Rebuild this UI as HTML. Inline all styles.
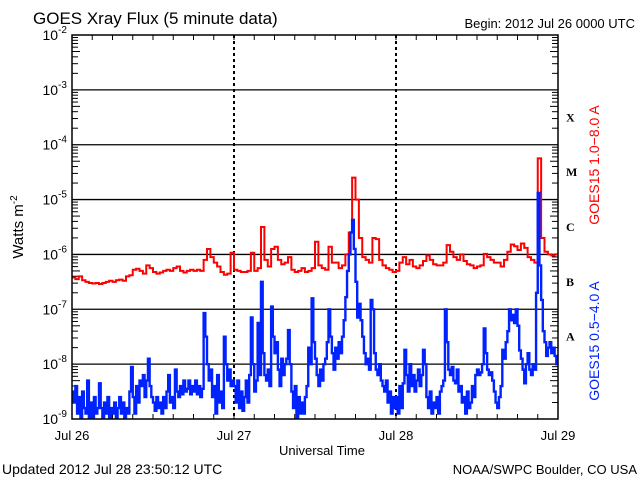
<!DOCTYPE html>
<html><head><meta charset="utf-8"><style>
html,body{margin:0;padding:0;background:#fff;}
svg{display:block;font-family:"Liberation Sans",sans-serif;}
</style></head><body>
<svg id="chart" width="640" height="480" viewBox="0 0 640 480">
<text x="33" y="24" font-size="17">GOES Xray Flux (5 minute data)</text>
<text x="635" y="28" font-size="13" text-anchor="end">Begin:  2012 Jul 26 0000 UTC</text>
<g id="grid"></g>
<g id="series"></g>
<rect x="72" y="35" width="486" height="384" fill="none" stroke="#000" stroke-width="1.5"/>
<g id="ylabels"></g>
<g id="xlabels"></g>
<text transform="translate(23,227) rotate(-90)" font-size="15" text-anchor="middle">Watts m<tspan font-size="10" dy="-6">-2</tspan></text>
<text x="322" y="455" font-size="13" text-anchor="middle">Universal Time</text>
<text x="2" y="474" font-size="14">Updated 2012 Jul 28 23:50:12 UTC</text>
<text x="637" y="474" font-size="13" text-anchor="end">NOAA/SWPC Boulder, CO USA</text>
<g font-family="'Liberation Serif',serif" font-weight="bold" font-size="12" id="classes"></g>
<text transform="translate(599,165) rotate(-90)" font-size="14" fill="#ff0000" text-anchor="middle">GOES15 1.0−8.0 A</text>
<text transform="translate(599,341) rotate(-90)" font-size="14" fill="#0022ff" text-anchor="middle">GOES15 0.5−4.0 A</text>
</svg>
<script>
const dayLabels = ["Jul 26","Jul 27","Jul 28","Jul 29"];
const decades = [-2,-3,-4,-5,-6,-7,-8,-9];
const flareClasses = ["X","M","C","B","A"];
const classLogs = [-3.5,-4.5,-5.5,-6.5,-7.5];
// long channel, log10 W/m^2, 30-minute samples
const redLog = [
-6.42,-6.45,-6.40,-6.47,-6.50,-6.52,-6.53,-6.52,
-6.54,-6.52,-6.50,-6.48,-6.50,-6.47,-6.46,-6.48,
-6.40,-6.38,-6.28,-6.26,-6.30,-6.35,-6.20,-6.25,
-6.32,-6.35,-6.33,-6.30,-6.28,-6.30,-6.25,-6.22,
-6.30,-6.33,-6.30,-6.28,-6.30,-6.28,-6.30,-6.10,
-5.90,-6.05,-6.15,-6.22,-6.32,-6.37,-6.35,-5.97,
-6.28,-6.30,-6.32,-6.32,-6.30,-5.97,-6.30,-6.25,
-5.50,-6.10,-6.22,-5.90,-5.86,-6.10,-6.18,-6.15,
-6.05,-6.28,-6.32,-6.30,-6.25,-6.32,-6.30,-6.25,
-5.77,-6.20,-6.25,-6.28,-5.86,-6.15,-6.15,-6.25,
-6.20,-6.00,-5.60,-4.60,-5.00,-5.70,-6.05,-6.10,
-6.15,-5.70,-5.72,-6.10,-6.20,-6.25,-6.28,-6.32,
-6.30,-6.15,-6.05,-6.18,-6.10,-6.22,-6.25,-6.20,
-6.12,-6.02,-6.10,-6.18,-6.20,-6.20,-6.15,-5.83,
-5.95,-6.05,-6.10,-6.00,-6.12,-6.18,-6.20,-6.25,
-6.22,-6.20,-5.99,-6.05,-6.10,-6.15,-6.15,-6.22,
-6.10,-5.95,-5.82,-5.85,-5.92,-5.80,-5.88,-6.05,
-6.10,-6.15,-4.25,-5.70,-5.95,-6.00,-6.02,-6.00,
-6.00];
// short channel, log10 W/m^2, 15-minute samples
const blueLog = [
-8.5,-8.7,-8.4,-8.9,-8.6,-9.0,-8.5,-8.8,
-8.9,-8.3,-9.0,-8.7,-9.0,-8.6,-8.9,-8.8,
-8.35,-8.8,-9.0,-8.7,-8.9,-8.6,-9.0,-8.8,
-8.9,-8.7,-9.0,-8.8,-8.6,-8.9,-8.7,-9.0,
-8.8,-8.9,-8.5,-8.05,-8.6,-8.9,-8.4,-8.7,
-8.3,-8.4,-8.2,-8.6,-8.3,-7.9,-8.4,-8.6,
-8.7,-8.85,-8.6,-8.8,-8.7,-8.9,-8.6,-8.8,
-8.5,-8.2,-8.7,-8.6,-8.8,-8.1,-8.5,-8.6,
-8.4,-8.55,-8.3,-8.5,-8.45,-8.3,-8.55,-8.4,
-8.5,-8.3,-8.55,-8.4,-8.6,-8.45,-7.07,-7.5,
-8.0,-8.3,-8.1,-8.6,-8.4,-8.9,-8.2,-8.7,
-8.5,-8.8,-7.5,-8.0,-8.3,-8.1,-8.4,-8.3,
-8.4,-8.7,-8.3,-8.8,-8.5,-8.85,-8.6,-8.3,
-8.7,-8.2,-7.15,-8.0,-8.5,-8.3,-7.25,-8.2,
-6.5,-7.8,-8.2,-8.3,-8.1,-8.4,-6.95,-7.5,
-7.8,-7.6,-8.1,-8.4,-7.9,-8.2,-8.0,-7.9,
-7.38,-8.0,-8.5,-8.8,-8.4,-9.0,-8.6,-8.9,
-8.7,-8.9,-8.6,-8.4,-7.7,-8.0,-6.8,-7.6,
-7.9,-8.2,-8.4,-8.1,-8.3,-8.0,-7.9,-7.6,
-7.0,-7.5,-7.8,-8.1,-7.7,-7.9,-7.6,-7.8,
-7.5,-7.2,-6.78,-6.3,-6.0,-5.6,-5.37,-5.9,
-6.5,-7.15,-6.9,-7.2,-7.5,-7.8,-8.0,-7.9,
-8.1,-6.83,-7.0,-7.8,-8.1,-8.2,-8.0,-8.3,
-8.4,-8.5,-8.3,-8.7,-8.5,-8.9,-8.6,-8.8,
-8.6,-8.9,-8.4,-8.8,-8.35,-7.74,-8.2,-8.5,
-8.0,-8.4,-8.2,-8.5,-8.3,-8.1,-8.4,-8.2,
-7.74,-8.0,-8.6,-8.8,-8.5,-8.9,-8.7,-8.8,
-8.6,-8.9,-8.5,-8.4,-8.3,-7.0,-7.6,-8.1,
-8.2,-8.05,-8.3,-8.35,-8.1,-8.5,-8.4,-8.7,
-8.6,-8.9,-8.5,-8.8,-8.7,-8.4,-8.6,-8.2,
-8.1,-8.2,-8.15,-8.0,-7.35,-7.8,-8.1,-8.2,
-8.15,-8.3,-8.5,-8.7,-8.8,-8.6,-8.4,-7.74,
-7.9,-7.6,-7.4,-7.0,-7.2,-7.1,-7.25,-7.0,
-7.3,-7.75,-7.9,-8.1,-8.35,-8.0,-7.8,-8.1,
-8.2,-8.0,-8.1,-6.7,-4.88,-6.2,-6.83,-7.4,
-7.6,-7.85,-7.7,-7.6,-7.8,-7.7,-7.85,-8.0,
-8.0];

const NS="http://www.w3.org/2000/svg";
const X0=72,X1=558,Y0=35,Y1=419,DAYS=3;
function xScale(days){return X0+(X1-X0)*days/DAYS;}
function yScale(lg){return Y0+(-2-lg)*(Y1-Y0)/7;}
function mk(tag,attrs,parent){const e=document.createElementNS(NS,tag);for(const k in attrs)e.setAttribute(k,attrs[k]);parent.appendChild(e);return e;}

const grid=document.getElementById('grid');
decades.forEach((d,i)=>{
  const y=yScale(d);
  if(d<-2&&d>-9){const l=mk('line',{x1:X0,x2:X1,y1:y,y2:y,stroke:'#000','stroke-width':1.3},grid);
    
    }
  if(d>-9){for(let m=2;m<=9;m++){
    const yy=yScale(d-1+Math.log10(m));
    const len=(m===5)?8:6;
    mk('line',{x1:X0,x2:X0+len,y1:yy,y2:yy,stroke:'#000','stroke-width':1},grid);
    mk('line',{x1:X1-len,x2:X1,y1:yy,y2:yy,stroke:'#000','stroke-width':1},grid);
  }}
});
for(let h=0;h<=72;h+=3){
  const x=xScale(h/24);
  mk('line',{x1:x,x2:x,y1:Y0,y2:Y0+5,stroke:'#000','stroke-width':1},grid);
  mk('line',{x1:x,x2:x,y1:Y1-5,y2:Y1,stroke:'#000','stroke-width':1},grid);
}
for(let d=1;d<DAYS;d++){
  const x=xScale(d);
  const l=mk('line',{x1:x,x2:x,y1:Y0,y2:Y1,stroke:'#000','stroke-width':2,'stroke-dasharray':'3,3'},grid);
  
  
}
const yl=document.getElementById('ylabels');
decades.forEach(d=>{
  const t=mk('text',{x:67,y:yScale(d)+5,'font-size':14,'text-anchor':'end'},yl);
  
  
  t.innerHTML='10<tspan font-size="10" dy="-7">'+d+'</tspan>';
});
const xl=document.getElementById('xlabels');
dayLabels.forEach((s,i)=>{
  const t=mk('text',{x:xScale(i),y:440,'font-size':13,'text-anchor':'middle'},xl);
  
  
  t.textContent=s;
});
const cl=document.getElementById('classes');
flareClasses.forEach((c,i)=>{
  const t=mk('text',{x:566,y:yScale(classLogs[i])+4},cl);
  
  
  t.textContent=c;
});
const sg=document.getElementById('series');
const clip=mk('clipPath',{id:'pc'},sg);mk('rect',{x:X0,y:Y0,width:X1-X0,height:Y1-Y0},clip);
function path(arr,color,name,w){
  const n=arr.length-1;
  let d='';
  arr.forEach((v,i)=>{
    const x=xScale(DAYS*i/n), y=Math.min(yScale(v),Y1+2);
    if(i===0){d+='M'+x.toFixed(2)+','+y.toFixed(2);}
    else{d+='H'+x.toFixed(2)+'V'+y.toFixed(2);}
  });
  const p=mk('path',{d:d,fill:'none',stroke:color,'stroke-width':w,'clip-path':'url(#pc)'},sg);
  
  
}
path(redLog,'#ff0000','long-channel-line',2);
path(blueLog,'#0022ff','short-channel-line',2.4);
</script>
</body></html>
